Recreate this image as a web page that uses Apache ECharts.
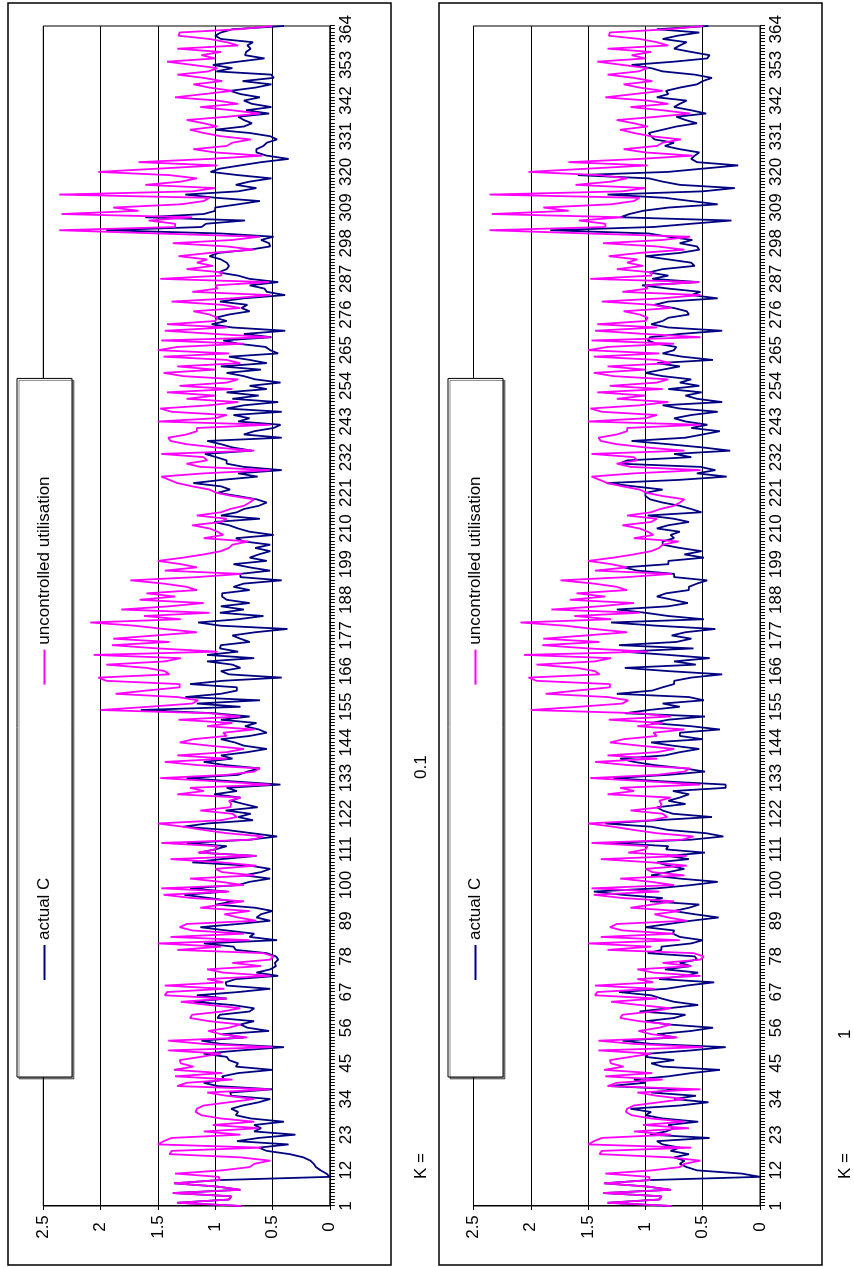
<!DOCTYPE html>
<html><head><meta charset="utf-8">
<script src="https://cdn.jsdelivr.net/npm/echarts/dist/echarts.min.js"></script>
<style>
html,body{margin:0;padding:0;width:854px;height:1267px;overflow:hidden;background:#fff}
#c{position:absolute;left:0;top:0;width:1267px;height:854px;transform-origin:0 0;transform:translate(0,1267px) rotate(-90deg);}
</style></head><body><div id="c"></div>
<script>
// categories (days 1..365)
const days = [];
for (let d = 1; d <= 365; d++) days.push(String(d));
const valueTicks = [0, 0.5, 1, 1.5, 2, 2.5];
const kLabels = ['0.1', '1'];
const seriesNames = ['actual C', 'uncontrolled utilisation'];

const uncontrolled = [
0.77,1.33,0.88,0.86,1.37,0.78,0.98,1.36,0.96,0.97,
1.35,0.94,0.70,0.66,0.52,0.78,1.40,1.38,0.60,1.50,
1.45,1.38,0.78,1.10,0.62,1.02,0.66,0.95,1.12,1.17,
1.16,1.10,0.88,0.66,0.90,1.07,0.52,1.33,1.25,0.85,
1.35,0.94,1.36,1.19,1.30,1.31,1.13,0.95,1.41,0.50,
1.10,1.41,0.72,0.95,1.06,0.88,0.78,1.05,1.22,1.20,
0.94,0.78,1.05,1.30,0.90,1.44,1.42,0.92,1.44,0.93,
1.07,0.52,0.93,1.07,0.60,0.85,0.52,0.49,0.58,1.33,
0.95,1.50,0.70,1.39,0.75,1.20,1.31,1.25,0.64,0.80,
0.92,0.70,1.13,0.94,0.75,1.20,1.45,0.88,1.47,0.75,
0.95,1.22,0.66,0.94,1.00,0.64,0.95,1.39,0.64,1.15,
1.00,0.98,1.47,0.68,0.58,0.90,1.10,1.28,1.50,0.95,
0.81,0.85,1.13,0.87,0.86,0.88,0.78,1.33,1.10,1.22,
0.52,0.98,1.48,0.90,0.66,0.61,1.15,1.44,0.90,1.33,
0.90,0.75,1.05,1.31,1.19,0.90,0.93,0.66,1.07,0.85,
1.32,0.78,1.05,2.00,1.58,1.20,1.15,1.33,1.87,1.60,
1.31,1.31,1.95,2.02,1.40,1.44,1.60,1.95,1.44,1.30,
2.06,0.98,1.50,1.90,1.40,1.89,1.52,1.16,1.45,1.70,
2.09,1.30,1.62,1.05,1.82,1.40,1.10,1.66,1.35,1.60,
1.16,1.25,1.45,1.74,1.16,0.77,1.44,1.16,1.30,1.50,
1.28,1.10,0.95,0.88,0.85,0.71,1.10,0.93,0.98,1.05,
1.20,0.95,0.90,1.16,0.95,0.87,0.75,0.70,0.66,0.85,
0.99,1.05,1.20,1.33,1.40,1.47,1.10,0.52,1.13,1.25,
1.07,1.10,1.47,0.66,1.00,1.25,1.39,1.41,1.25,1.16,
1.16,0.52,1.50,1.00,0.90,1.38,1.48,1.05,0.80,1.25,
1.00,1.42,0.85,1.31,0.90,0.80,1.28,1.45,1.00,1.33,
0.78,0.90,1.45,0.88,1.50,1.33,0.75,1.47,0.52,1.00,
1.44,0.90,1.42,1.00,0.98,1.05,1.19,0.78,0.94,1.38,
0.85,0.52,1.20,0.98,1.00,0.53,1.48,0.95,0.94,1.25,
1.02,1.16,1.07,1.32,1.05,0.66,0.90,1.37,0.85,0.61,
1.50,2.36,1.35,1.35,1.58,1.20,2.34,1.67,1.89,1.30,
1.10,1.05,2.36,1.20,1.00,1.61,1.30,1.16,1.40,2.02,
1.50,0.98,1.67,1.05,0.59,1.00,1.19,0.90,0.85,0.69,
0.95,1.10,1.22,0.98,1.10,1.25,0.90,0.61,0.85,1.13,
0.80,0.98,1.35,1.10,0.85,1.05,1.19,0.94,1.10,1.33,
1.06,0.98,1.20,1.42,1.00,1.12,0.95,1.33,0.80,0.90,
1.05,1.32,1.31,0.80,0.50
];

const actualK01 = [
0.77,1.33,0.88,0.86,1.37,0.78,0.98,1.36,0.96,0.00,
0.03,0.08,0.12,0.14,0.17,0.23,0.35,0.55,0.62,0.36,
0.81,0.62,0.30,0.66,0.60,0.66,0.40,0.69,0.82,0.80,
0.86,0.76,0.62,0.52,0.86,0.87,0.50,0.98,1.10,0.92,
0.94,0.80,0.50,0.82,0.80,0.88,0.90,1.10,0.78,0.40,
0.95,1.12,0.75,0.94,0.53,0.72,0.78,0.66,0.98,0.96,
0.70,0.66,0.85,1.19,0.90,1.16,0.80,0.52,0.90,0.91,
0.82,0.45,0.64,0.52,0.47,0.48,0.45,0.47,0.55,0.82,
0.84,1.10,0.46,0.70,0.66,0.90,1.13,0.80,0.52,0.64,
0.60,0.50,0.65,0.99,0.84,1.05,1.27,0.90,1.22,0.80,
0.70,0.52,0.75,0.60,0.52,0.70,1.20,0.95,0.64,1.14,
1.00,0.90,1.25,0.70,0.46,0.68,0.90,1.28,1.07,0.67,
0.80,0.69,0.91,0.63,0.75,0.86,0.78,1.01,0.81,0.90,
0.43,0.85,1.25,0.80,0.72,0.61,0.91,1.10,0.85,0.95,
0.72,0.55,0.75,0.83,0.95,0.70,0.55,0.62,0.74,0.64,
0.95,0.70,1.00,1.65,0.78,1.16,0.61,1.26,0.95,0.81,
0.81,1.22,0.94,0.42,0.88,0.95,0.78,0.85,1.07,0.66,
1.07,0.80,0.96,0.95,0.70,0.78,0.85,0.65,0.37,0.95,
1.15,0.80,0.58,0.96,0.75,0.95,0.70,0.90,0.94,0.94,
0.70,0.84,0.75,0.42,0.78,0.78,0.52,0.70,0.84,0.55,
0.70,0.62,0.52,0.65,0.52,0.75,0.82,0.49,0.70,0.80,
0.88,1.01,0.61,0.95,0.81,0.75,0.62,0.55,0.64,0.80,
0.98,0.87,0.95,1.19,0.94,0.63,0.80,0.42,0.75,0.90,
0.90,0.99,1.09,0.68,0.85,0.95,1.07,0.42,0.75,0.66,
0.49,0.43,0.80,0.70,0.84,0.42,0.90,0.75,0.45,0.85,
0.62,0.90,0.55,0.70,0.43,0.65,0.75,0.90,0.60,0.95,
0.55,0.70,0.88,0.45,0.52,0.56,0.80,0.93,0.51,0.75,
0.39,0.85,1.03,0.90,1.00,0.88,0.70,0.77,0.72,0.96,
0.75,0.39,0.55,0.57,0.70,0.45,0.70,0.80,0.97,0.90,
0.88,0.90,0.95,1.05,0.97,0.70,0.52,0.53,0.60,0.49,
0.95,1.95,1.12,1.08,0.74,1.61,1.10,1.00,1.00,0.80,
0.61,0.99,1.26,0.80,0.64,0.82,0.70,0.51,0.80,1.04,
0.96,0.78,0.60,0.36,0.55,0.64,0.64,0.58,0.55,0.46,
0.52,0.70,1.00,0.75,0.68,0.75,0.80,0.53,0.73,0.51,
0.68,0.75,0.61,0.78,0.87,0.65,0.51,0.76,0.49,0.51,
0.99,0.85,1.02,0.80,0.57,0.74,0.73,0.69,0.72,0.67,
0.95,1.00,0.95,0.85,0.40
];

const actualK1 = [
0.77,1.33,0.88,0.86,1.37,0.78,0.98,1.36,0.96,0.00,
0.16,0.55,0.64,0.70,0.66,0.75,0.62,0.78,0.70,0.85,
0.90,0.44,0.96,0.82,0.75,0.80,0.54,0.85,1.00,0.95,
1.13,0.70,0.45,0.75,0.56,0.95,0.70,1.32,1.00,1.10,
0.80,0.60,0.35,0.85,0.95,0.75,1.00,0.97,0.60,0.30,
0.95,1.20,0.74,0.90,0.60,0.41,0.80,1.00,0.75,0.65,
1.05,0.80,0.54,0.75,0.86,0.95,1.23,0.82,0.64,0.40,
0.88,0.65,0.54,0.83,0.60,0.70,0.55,0.57,0.98,0.86,
0.86,0.60,0.50,0.70,0.76,0.75,1.00,0.80,0.60,0.36,
0.57,0.75,0.62,0.53,0.96,0.85,1.20,1.45,0.90,0.60,
0.37,0.70,0.95,0.80,0.66,0.80,0.90,0.62,0.80,0.48,
0.82,0.80,1.30,0.60,0.32,0.47,0.80,0.95,1.35,0.90,
0.42,0.76,0.85,0.90,0.65,0.80,0.70,0.62,0.76,0.30,
0.30,0.85,1.28,0.80,0.48,0.66,0.92,1.10,1.22,0.83,
0.70,0.53,0.76,0.95,0.50,0.70,0.70,0.35,0.60,0.95,
0.80,0.48,1.18,0.97,0.70,0.85,0.49,0.62,1.25,0.94,
0.85,0.75,0.75,0.60,0.33,0.80,1.18,0.56,0.75,0.44,
0.80,1.20,0.58,1.23,0.73,0.60,0.77,0.65,0.39,0.90,
1.30,0.49,0.80,1.00,1.25,0.80,0.63,0.76,0.90,0.82,
0.62,0.62,0.55,0.46,0.75,0.75,1.07,1.19,0.80,0.80,
0.49,0.66,0.51,0.70,0.85,0.85,0.75,0.78,0.70,0.90,
0.80,0.62,0.75,0.98,0.51,0.60,0.70,0.85,0.96,1.00,
1.00,0.85,1.10,1.34,0.70,0.29,0.55,0.39,0.52,1.23,
1.16,0.60,0.75,0.26,0.50,0.80,1.12,0.65,0.50,0.35,
0.60,0.46,0.65,0.75,0.60,0.37,0.70,0.85,0.33,0.55,
0.65,0.51,0.80,0.53,0.70,0.60,0.85,1.00,0.85,0.70,
0.90,0.41,0.68,0.85,0.75,0.73,0.90,0.98,0.96,0.70,
0.33,0.80,0.95,0.85,0.80,0.62,0.64,0.75,0.92,0.80,
0.37,0.60,0.52,0.80,1.03,0.53,0.94,0.80,0.97,0.85,
0.57,0.60,0.80,1.00,0.70,0.53,0.55,0.70,0.59,0.80,
0.97,1.83,0.93,0.60,0.25,1.22,1.14,1.02,0.80,0.37,
0.60,0.83,1.33,0.50,0.22,0.70,0.85,0.97,1.59,0.80,
0.50,0.19,0.55,0.60,0.57,0.53,0.70,0.83,0.75,0.92,
0.95,0.97,0.85,0.73,0.55,0.65,0.73,0.47,0.60,0.75,
0.70,0.64,0.90,0.80,0.82,0.70,0.55,0.50,0.42,0.57,
0.85,0.95,1.12,0.75,0.46,0.44,0.60,0.75,0.70,0.64,
0.85,0.72,0.53,0.90,0.45
];

const FONT = '"Liberation Sans", Arial, sans-serif';
const BLUE = '#000080';
const PINK = '#FF00FF';
const panelTops = [43.3, 473.5];
const frameTops = [8, 439];
const actuals = [actualK01, actualK1];

const chart = echarts.init(document.getElementById('c'), null, { renderer: 'canvas' });

const grids = panelTops.map(t => ({
  left: 61, right: 26, top: t, height: 286.5,
  show: true, borderColor: '#000', borderWidth: 1, backgroundColor: 'transparent'
}));

const xAxes = [0, 1].map(i => ({
  type: 'category', gridIndex: i, data: days, boundaryGap: false,
  axisLine: { show: true, lineStyle: { color: '#000', width: 1 } },
  axisTick: { show: true, interval: 0, length: 5, lineStyle: { color: '#000', width: 1 } },
  axisLabel: { interval: 10, color: '#000', fontSize: 17, fontFamily: FONT, margin: 8 },
  splitLine: { show: false }
}));

const yAxes = [0, 1].map(i => ({
  type: 'value', gridIndex: i,
  min: valueTicks[0], max: valueTicks[valueTicks.length - 1], interval: 0.5,
  axisLine: { show: true, lineStyle: { color: '#000', width: 1 } },
  axisTick: { show: true, length: 4, lineStyle: { color: '#000' } },
  axisLabel: { color: '#000', fontSize: 17, fontFamily: FONT, align: 'center', margin: 21 },
  splitLine: { show: true, lineStyle: { color: '#000', width: 1 } }
}));

const series = [];
[0, 1].forEach(i => {
  series.push({
    name: seriesNames[0], type: 'line', xAxisIndex: i, yAxisIndex: i,
    data: actuals[i], symbol: 'none', showSymbol: false,
    lineStyle: { color: BLUE, width: 1.8 }, itemStyle: { color: BLUE }, z: 2
  });
  series.push({
    name: seriesNames[1], type: 'line', xAxisIndex: i, yAxisIndex: i,
    data: uncontrolled, symbol: 'none', showSymbol: false,
    lineStyle: { color: PINK, width: 1.8 }, itemStyle: { color: PINK }, z: 3
  });
});

const legends = [0, 1].map(i => ({
  data: seriesNames, orient: 'horizontal', left: 190, top: i ? 448 : 17,
  padding: [19, 98, 19, 97], itemGap: 193, itemWidth: 35, itemHeight: 2, icon: 'rect',
  borderColor: '#000', borderWidth: 1, backgroundColor: '#fff',
  shadowColor: 'rgba(0,0,0,0.45)', shadowOffsetX: -2, shadowOffsetY: 2, shadowBlur: 0,
  textStyle: { color: '#000', fontSize: 17, fontFamily: FONT },
  selectedMode: false
}));

const graphics = [];
frameTops.forEach(t => {
  graphics.push({ type: 'rect', silent: true, z: -10,
    shape: { x: 2, y: t, width: 1262, height: 383 },
    style: { fill: 'none', stroke: '#000', lineWidth: 1.5 } });
});
const kY = [421, 845];
const kValX = [488, 228];
[0, 1].forEach(i => {
  graphics.push({ type: 'text', x: 88, y: kY[i], silent: true,
    style: { text: 'K =', fontSize: 17, fontFamily: FONT, fill: '#000', verticalAlign: 'middle' } });
  graphics.push({ type: 'text', x: kValX[i], y: kY[i], silent: true,
    style: { text: kLabels[i], fontSize: 17, fontFamily: FONT, fill: '#000', verticalAlign: 'middle' } });
});

chart.setOption({
  animation: false,
  backgroundColor: '#fff',
  grid: grids,
  xAxis: xAxes,
  yAxis: yAxes,
  legend: legends,
  series: series,
  graphic: graphics
});
</script>
</body></html>
